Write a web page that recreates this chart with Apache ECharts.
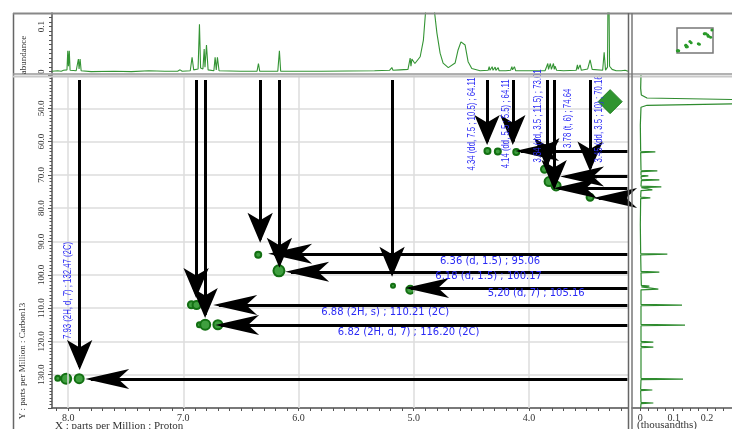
<!DOCTYPE html>
<html><head><meta charset="utf-8">
<script src="https://cdn.jsdelivr.net/npm/echarts@6/dist/echarts.min.js"></script>
<style>html,body{margin:0;padding:0;background:#fff}#c{width:732px;height:429px}</style>
</head><body><div id="c"></div>
<script>
// ---------------- DATA ----------------
const protonTicks = [4, 5, 6, 7, 8];
const carbonTicks = [50, 60, 70, 80, 90, 100, 110, 120, 130];
const abundanceTicks = [0, 0.1];
const thousandthsTicks = [0, 0.1, 0.2];

// 2D cross peaks (1H ppm, 13C ppm, relative volume)
const peakH = [8.09, 8.017, 7.904, 6.93, 6.885, 6.86, 6.81, 6.70, 6.35, 6.17, 5.18, 5.03, 4.36, 4.27, 4.11, 3.865, 3.825, 3.764, 3.469];
const peakC = [131.1, 131.2, 131.2, 109.0, 109.1, 115.0, 115.0, 115.0, 94.0, 98.8, 103.3, 104.5, 62.8, 63.0, 63.1, 68.3, 72.0, 73.3, 76.7];
const peakVolume = [0.45, 0.9, 0.85, 0.65, 0.7, 0.45, 0.95, 0.85, 0.55, 1.0, 0.4, 0.7, 0.5, 0.55, 0.55, 0.65, 0.8, 0.85, 0.6];
const solventH = [3.295];
const solventC = [48.0];

// 1D proton projection (ppm, abundance)
const protonPpm = [8.14, 8.09, 8.06, 8.04, 8.01, 8.003, 7.997, 7.990, 7.983, 7.93, 7.915, 7.911, 7.905, 7.896, 7.887, 7.80, 7.60, 7.45, 7.30, 7.16, 7.05, 7.028, 7.01, 6.94, 6.924, 6.91, 6.872, 6.860, 6.850, 6.83, 6.819, 6.812, 6.799, 6.785, 6.735, 6.724, 6.714, 6.704, 6.69, 6.50, 6.36, 6.348, 6.337, 6.18, 6.166, 6.155, 5.80, 5.34, 5.21, 5.19, 5.18, 5.12, 5.05, 5.031, 5.024, 5.016, 5.005, 4.99, 4.973, 4.944, 4.916, 4.895, 4.875, 4.849, 4.823, 4.799, 4.771, 4.745, 4.70, 4.684, 4.641, 4.615, 4.59, 4.577, 4.554, 4.528, 4.496, 4.424, 4.354, 4.345, 4.338, 4.319, 4.312, 4.293, 4.287, 4.267, 4.259, 4.20, 4.159, 4.148, 4.142, 4.126, 4.115, 4.00, 3.86, 3.847, 3.836, 3.83, 3.814, 3.805, 3.787, 3.78, 3.773, 3.76, 3.70, 3.59, 3.579, 3.573, 3.556, 3.545, 3.49, 3.469, 3.451, 3.36, 3.347, 3.335, 3.318, 3.310, 3.300, 3.278, 3.243, 3.20, 3.165, 3.14];
const protonAbundance = [0.001, 0.002, 0.001, 0.003, 0.004, 0.046, 0.012, 0.046, 0.003, 0.002, 0.004, 0.028, 0.006, 0.028, 0.002, 0.000, 0.001, 0.000, 0.002, 0.001, 0.001, 0.004, 0.001, 0.002, 0.032, 0.004, 0.006, 0.105, 0.008, 0.006, 0.050, 0.010, 0.059, 0.004, 0.002, 0.032, 0.004, 0.032, 0.002, 0.001, 0.001, 0.018, 0.001, 0.001, 0.046, 0.001, 0.001, 0.002, 0.003, 0.009, 0.003, 0.004, 0.005, 0.030, 0.012, 0.028, 0.025, 0.018, 0.022, 0.033, 0.070, 0.140, 0.300, 0.300, 0.140, 0.086, 0.041, 0.019, 0.009, 0.007, 0.019, 0.048, 0.066, 0.070, 0.059, 0.022, 0.007, 0.002, 0.003, 0.011, 0.003, 0.011, 0.003, 0.010, 0.003, 0.009, 0.002, 0.002, 0.003, 0.011, 0.004, 0.011, 0.002, 0.002, 0.002, 0.004, 0.018, 0.005, 0.018, 0.005, 0.018, 0.005, 0.012, 0.003, 0.002, 0.003, 0.015, 0.005, 0.015, 0.003, 0.006, 0.026, 0.005, 0.003, 0.043, 0.003, 0.010, 0.300, 0.012, 0.005, 0.002, 0.002, 0.003, 0.001];

// 1D carbon projection (ppm, intensity in thousandths)
const carbonPpm = [40, 44, 46, 46.9, 47.4, 48.6, 49.1, 49.7, 55, 62.9, 63.1, 63.3, 68.6, 68.8, 69.0, 70.1, 70.3, 70.5, 71.3, 71.5, 71.7, 73.4, 73.6, 73.8, 74.3, 74.5, 74.7, 76.7, 76.9, 77.1, 85, 93.6, 93.8, 94.0, 99.0, 99.2, 99.4, 103.2, 103.4, 103.6, 104.1, 104.3, 104.5, 108.9, 109.1, 109.3, 114.9, 115.1, 115.3, 120.0, 120.2, 120.4, 121.5, 121.7, 121.9, 131.1, 131.3, 131.5, 134.4, 134.6, 134.8, 138.3, 138.5, 138.7, 140];
const carbonIntensity = [0.002, 0.001, 0.003, 0.02, 0.3, 0.3, 0.02, 0.002, 0.000, 0.001, 0.045, 0.001, 0.002, 0.051, 0.002, 0.002, 0.024, 0.002, 0.003, 0.057, 0.003, 0.002, 0.063, 0.003, 0.002, 0.036, 0.002, 0.001, 0.030, 0.001, 0.000, 0.001, 0.081, 0.001, 0.002, 0.057, 0.002, 0.003, 0.027, 0.003, 0.003, 0.054, 0.002, 0.002, 0.125, 0.002, 0.002, 0.134, 0.002, 0.002, 0.039, 0.002, 0.002, 0.039, 0.002, 0.002, 0.128, 0.002, 0.001, 0.036, 0.001, 0.002, 0.039, 0.002, 0.001];

// Assignment texts
const verticalNotes = ["7.93 (2H, d, 7) ; 132.47 (2C)", "4.34 (dd, 7.5 ; 10.5) ; 64.11", "4.14 (dd, 5.5 ; 5.5) ; 64.11", "3.84 (dd, 3.5 ; 11.5) ; 73.01", "3.78 (t, 6) ; 74.64", "3.45 (dd, 3.5 ; 10) ; 70.16"];
const horizontalNotes = ["6.36 (d, 1.5) ; 95.06", "6.18 (d, 1.5) ; 100.17", "5,20 (d, 7) ; 105.16", "6.88 (2H, s) ; 110.21 (2C)", "6.82 (2H, d, 7) ; 116.20 (2C)"];

// ---------------- LAYOUT (annotation anchors in ppm) ----------------
const verticalNoteAt = [[7.996, 104.7], [4.493, 54.7], [4.194, 54.7], [3.92, 52.3], [3.664, 53.0], [3.391, 53.2]];
const horizontalNoteAt = [[4.337, 96.1], [4.350, 100.6], [3.937, 105.7], [5.248, 111.4], [5.044, 117.4]];
// vertical arrows: [H, startC, tipC]
const vArrows = [[7.90, 41.5, 128.6], [6.889, 41.5, 107.0], [6.811, 41.5, 113.0], [6.333, 41.5, 90.4], [6.166, 41.5, 97.9], [5.188, 41.5, 100.6], [4.363, 41.5, 61.0], [4.14, 41.5, 61.0], [3.845, 41.5, 67.9], [3.781, 41.5, 74.5], [3.469, 41.5, 69.0]];
// horizontal arrows: [C, startH, tipH]
const hArrows = [[131.3, 3.145, 7.852], [115.1, 3.145, 6.724], [109.1, 3.145, 6.741], [104.0, 3.145, 5.075], [99.1, 3.145, 6.116], [93.7, 3.145, 6.264], [62.8, 3.145, 4.12], [70.5, 3.145, 3.73], [74.0, 3.145, 3.79], [76.9, 3.145, 3.443]];

// ---------------- CHART ----------------
const serif = '"Liberation Serif", "DejaVu Serif", serif';
const axisCol = '#555';
const noteBlue = '#2a2af5';
const xMin = 3.14, xMax = 8.14;
const ticks = (a, b, s) => { const r = []; for (let v = a; v <= b + 1e-9; v += s) r.push(+v.toFixed(4)); return r; };

const chart = echarts.init(document.getElementById('c'), null, {renderer: 'canvas'});

const peaks = peakH.map((h, i) => ({value: [h, peakC[i]], symbolSize: Math.round(11 * peakVolume[i])}));

function noteRenderer(texts, vertical) {
  return function (params, api) {
    const p = api.coord([api.value(0), api.value(1)]);
    return {
      type: 'text', x: p[0], y: p[1],
      rotation: vertical ? Math.PI / 2 : 0,
      scaleX: vertical ? 0.74 : 1,
      style: {
        text: texts[params.dataIndex], fill: noteBlue,
        font: vertical ? '10.5px "Liberation Sans", Arial, sans-serif' : '10px "DejaVu Sans", sans-serif',
        align: 'center', verticalAlign: 'middle'
      }
    };
  };
}

const option = {
  animation: false,
  backgroundColor: '#fff',
  grid: [
    {left: 52, top: 75, width: 576, height: 333},
    {left: 52, top: 13, width: 576, height: 60},
    {left: 632, top: 75, width: 100, height: 333},
    {left: 677, top: 28, width: 36, height: 25, show: true, borderColor: '#777', borderWidth: 1.5}
  ],
  xAxis: [
    {gridIndex: 0, type: 'value', inverse: true, min: xMin, max: xMax,
     axisLine: {show: true, onZero: false, lineStyle: {color: axisCol, width: 1.5}},
     axisTick: {show: true, customValues: ticks(3.2, 8.1, 0.1), length: 3, lineStyle: {color: axisCol}},
     axisLabel: {customValues: protonTicks, formatter: v => v.toFixed(1), fontFamily: serif, fontSize: 10, color: '#333', margin: 5},
     splitLine: {show: false}},
    {gridIndex: 1, type: 'value', inverse: true, min: xMin, max: xMax, show: false},
    {gridIndex: 2, type: 'value', min: -0.025, max: 0.275,
     axisLine: {show: true, onZero: false, lineStyle: {color: axisCol, width: 1.5}},
     axisTick: {show: true, customValues: ticks(0, 0.25, 0.025), length: 3, lineStyle: {color: axisCol}},
     axisLabel: {customValues: thousandthsTicks, formatter: v => v === 0 ? '0' : v.toFixed(1), fontFamily: serif, fontSize: 10, color: '#333', margin: 5},
     splitLine: {show: false}},
    {gridIndex: 3, type: 'value', inverse: true, min: xMin, max: xMax, show: false}
  ],
  yAxis: [
    {gridIndex: 0, type: 'value', inverse: true, min: 40, max: 140, interval: 10,
     axisLine: {show: true, onZero: false, lineStyle: {color: axisCol, width: 1.5}},
     axisTick: {show: true, length: 4, lineStyle: {color: axisCol}},
     minorTick: {show: true, splitNumber: 10, length: 2.5, lineStyle: {color: axisCol}},
     axisLabel: {rotate: 90, formatter: v => carbonTicks.includes(v) ? v.toFixed(1) : '', fontFamily: serif, fontSize: 9, color: '#333', margin: 6},
     splitLine: {show: true, lineStyle: {color: '#dcdcdc', width: 1.5}}},
    {gridIndex: 1, type: 'value', min: -0.003, max: 0.13,
     axisLine: {show: true, onZero: false, lineStyle: {color: axisCol, width: 1.5}},
     axisTick: {show: true, customValues: ticks(0, 0.12, 0.01), length: 3, lineStyle: {color: axisCol}},
     axisLabel: {customValues: abundanceTicks, rotate: 90, formatter: v => v === 0 ? '0' : v.toFixed(1), fontFamily: serif, fontSize: 9, color: '#333', margin: 6},
     splitLine: {show: false}},
    {gridIndex: 2, type: 'value', inverse: true, min: 40, max: 140, show: false},
    {gridIndex: 3, type: 'value', inverse: true, min: 40, max: 140, show: false}
  ],
  series: [
    // vertical grid lines at labelled proton shifts
    {type: 'line', xAxisIndex: 0, yAxisIndex: 0, data: [], silent: true,
     markLine: {silent: true, symbol: 'none', label: {show: false}, animation: false,
       lineStyle: {color: '#dcdcdc', width: 1.5, type: 'solid'},
       data: protonTicks.map(v => ({xAxis: v}))}},
    // cross peaks
    {type: 'scatter', xAxisIndex: 0, yAxisIndex: 0, data: peaks, z: 3,
     itemStyle: {color: '#3f9f3f', borderColor: '#137013', borderWidth: 2, opacity: 1}},
    {type: 'scatter', xAxisIndex: 0, yAxisIndex: 0, symbol: 'diamond', symbolSize: [24, 24], z: 3,
     data: solventH.map((h, i) => [h, solventC[i]]),
     itemStyle: {color: '#2f942f', borderColor: '#1f7f1f', borderWidth: 1, opacity: 1}},
    // arrow shafts
    {type: 'line', xAxisIndex: 0, yAxisIndex: 0, data: [], z: 5,
     markLine: {silent: true, symbol: 'none', label: {show: false},
       lineStyle: {color: '#000', width: 3, type: 'solid', opacity: 1},
       data: vArrows.map(a => [{coord: [a[0], a[1]]}, {coord: [a[0], a[2] - 1]}])
         .concat(hArrows.map(a => [{coord: [a[1], a[0]]}, {coord: [a[2] - 0.05, a[0]]}]))}},
    // arrow heads (tip sits on the given coordinate)
    {type: 'scatter', xAxisIndex: 0, yAxisIndex: 0, z: 6, symbol: 'arrow', symbolRotate: 180, symbolSize: [19, 30],
     data: vArrows.map(a => [a[0], a[2]]), itemStyle: {color: '#000', opacity: 1}},
    {type: 'scatter', xAxisIndex: 0, yAxisIndex: 0, z: 6, symbol: 'arrow', symbolRotate: 90, symbolSize: [15, 44],
     data: hArrows.map(a => [a[2], a[0]]), itemStyle: {color: '#000', opacity: 1}},
    // assignment labels
    {type: 'custom', xAxisIndex: 0, yAxisIndex: 0, z: 7, silent: true, clip: false,
     data: verticalNoteAt, renderItem: noteRenderer(verticalNotes, true)},
    {type: 'custom', xAxisIndex: 0, yAxisIndex: 0, z: 7, silent: true, clip: false,
     data: horizontalNoteAt, renderItem: noteRenderer(horizontalNotes, false)},
    // top proton projection
    {type: 'line', xAxisIndex: 1, yAxisIndex: 1, showSymbol: false, clip: true,
     data: protonPpm.map((p, i) => [p, protonAbundance[i]]),
     lineStyle: {color: '#349434', width: 1.1}},
    // right carbon projection
    {type: 'line', xAxisIndex: 2, yAxisIndex: 2, showSymbol: false, clip: true,
     data: carbonPpm.map((c, i) => [carbonIntensity[i], c]),
     lineStyle: {color: '#2e8b2e', width: 1.2}},
    // overview
    {type: 'scatter', xAxisIndex: 3, yAxisIndex: 3, symbolSize: 3,
     data: peakH.map((h, i) => [h, peakC[i]]).concat(solventH.map((h, i) => [h, solventC[i]])),
     itemStyle: {color: '#2a9a2a', opacity: 1}}
  ],
  graphic: [
    {type: 'line', z: 100, shape: {x1: 13.5, y1: 13, x2: 13.5, y2: 429}, style: {stroke: '#666', lineWidth: 1.5}},
    {type: 'line', z: 100, shape: {x1: 13, y1: 13.5, x2: 732, y2: 13.5}, style: {stroke: '#888', lineWidth: 2}},
    {type: 'line', z: 100, shape: {x1: 13, y1: 74, x2: 732, y2: 74}, style: {stroke: '#999', lineWidth: 1.5}},
    {type: 'line', z: 100, shape: {x1: 13, y1: 76.5, x2: 732, y2: 76.5}, style: {stroke: '#c8c8c8', lineWidth: 2}},
    {type: 'line', z: 100, shape: {x1: 628.5, y1: 13, x2: 628.5, y2: 429}, style: {stroke: '#666', lineWidth: 1.5}},
    {type: 'line', z: 100, shape: {x1: 632, y1: 13, x2: 632, y2: 429}, style: {stroke: '#777', lineWidth: 1.5}},
    {type: 'text', z: 100, x: 24, y: 55, rotation: Math.PI / 2,
     style: {text: 'abundance', font: '9px "Liberation Serif"', fill: '#333', align: 'center', verticalAlign: 'middle'}},
    {type: 'text', z: 100, x: 23, y: 361, rotation: Math.PI / 2,
     style: {text: 'Y : parts per Million : Carbon13', font: '9px "Liberation Serif"', fill: '#333', align: 'center', verticalAlign: 'middle'}},
    {type: 'text', z: 100, x: 55, y: 421,
     style: {text: 'X : parts per Million : Proton', font: '11px "Liberation Serif"', fill: '#333', align: 'left', verticalAlign: 'top'}},
    {type: 'text', z: 100, x: 637, y: 420,
     style: {text: '(thousandths)', font: '11px "Liberation Serif"', fill: '#333', align: 'left', verticalAlign: 'top'}}
  ]
};
chart.setOption(option);
</script>
</body></html>
